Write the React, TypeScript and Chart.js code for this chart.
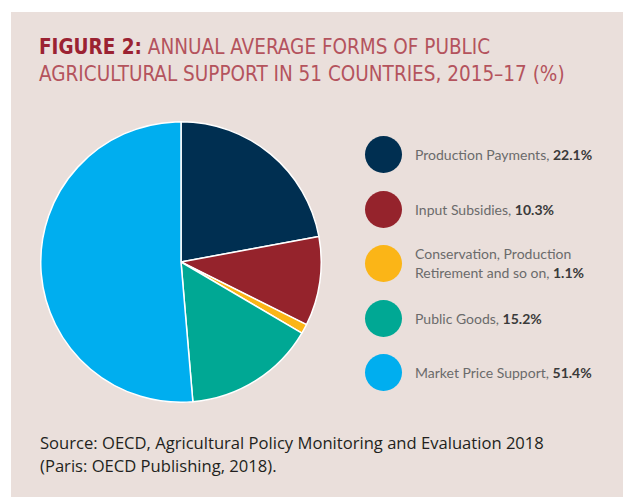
import React, { useEffect, useRef } from "react";
import { Chart, registerables } from "chart.js";

Chart.register(...registerables);

const categories = [
  "Production Payments",
  "Input Subsidies",
  "Conservation, Production Retirement and so on",
  "Public Goods",
  "Market Price Support",
];
const legendLines = [
  ["Production Payments, "],
  ["Input Subsidies, "],
  ["Conservation, Production", "Retirement and so on, "],
  ["Public Goods, "],
  ["Market Price Support, "],
];
const shares = [22.1, 10.3, 1.1, 15.2, 51.4];
const colors = ["#002F51", "#95232C", "#FBB517", "#00A894", "#00AEEF"];

const titleBold = "FIGURE 2:";
const titleRest1 = " ANNUAL AVERAGE FORMS OF PUBLIC";
const titleRest2 = "AGRICULTURAL SUPPORT IN 51 COUNTRIES, 2015\u201317 (%)";
const source1 = "Source: OECD, Agricultural Policy Monitoring and Evaluation 2018";
const source2 = "(Paris: OECD Publishing, 2018).";

export default function App() {
  const ref = useRef<HTMLCanvasElement | null>(null);

  useEffect(() => {
    if (!ref.current) return;
    const chart = new Chart(ref.current, {
      type: "pie",
      data: {
        labels: categories,
        datasets: [
          {
            data: shares,
            backgroundColor: colors,
            borderColor: "#ffffff",
            borderWidth: 1.5,
          },
        ],
      },
      options: {
        responsive: false,
        animation: false,
        layout: { padding: 0 },
        plugins: {
          legend: { display: false },
          tooltip: { enabled: false },
        },
      },
    });
    return () => chart.destroy();
  }, []);

  const titleFont = "'DejaVu Sans Condensed', 'DejaVu Sans', sans-serif";

  return (
    <div style={{ position: "absolute", left: 0, top: 0, width: 623, height: 497, background: "#ffffff", overflow: "hidden" }}>
      <div style={{ position: "absolute", left: 11, top: 12, width: 612, height: 485, background: "#EADFDB" }} />
      <div
        style={{
          position: "absolute",
          left: 39,
          top: 34,
          fontFamily: titleFont,
          fontSize: 20.5,
          lineHeight: "26.7px",
          color: "#B4535D",
          whiteSpace: "nowrap",
        }}
      >
        <div>
          <span style={{ fontWeight: 700, color: "#9B2232" }}>{titleBold}</span>
          <span style={{ fontWeight: 300 }}>{titleRest1}</span>
        </div>
        <div style={{ fontWeight: 300 }}>{titleRest2}</div>
      </div>

      <canvas ref={ref} width={282} height={282} style={{ position: "absolute", left: 40, top: 121, width: 282, height: 282 }} />

      {legendLines.map((lines, i) => {
        const cy = [154, 209, 263, 318, 372][i];
        return (
          <div key={i}>
            <div
              style={{
                position: "absolute",
                left: 383 - 18.5,
                top: cy - 18.5,
                width: 37,
                height: 37,
                borderRadius: "50%",
                background: colors[i],
              }}
            />
            <div
              style={{
                position: "absolute",
                left: 415,
                top: cy - (lines.length * 19) / 2,
                fontFamily: "Lato, sans-serif",
                fontSize: 14,
                lineHeight: "19px",
                color: "#6B6B6B",
                whiteSpace: "nowrap",
              }}
            >
              {lines.map((l, j) => (
                <div key={j}>
                  {l}
                  {j === lines.length - 1 ? (
                    <span style={{ fontWeight: 700, color: "#3A3A3A" }}>{shares[i].toFixed(1)}%</span>
                  ) : null}
                </div>
              ))}
            </div>
          </div>
        );
      })}

      <div
        style={{
          position: "absolute",
          left: 40,
          top: 431,
          fontFamily: "'Open Sans', sans-serif",
          fontSize: 16.6,
          lineHeight: "23px",
          color: "#231F20",
          whiteSpace: "nowrap",
        }}
      >
        <div>{source1}</div>
        <div>{source2}</div>
      </div>
    </div>
  );
}
